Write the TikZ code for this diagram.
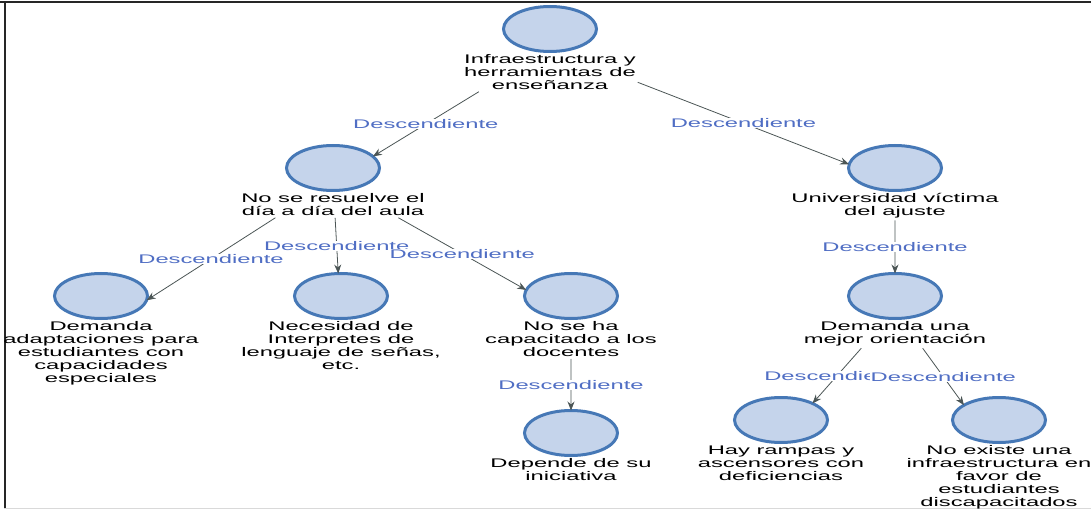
\documentclass[tikz,border=0pt]{standalone}
\usepackage{fontspec}
\newfontfamily\mapfont[FakeStretch=1.9]{Liberation Sans}
\usetikzlibrary{arrows.meta,positioning,fit,shapes.geometric,intersections}
\definecolor{bubblefill}{RGB}{197,212,235}
\definecolor{bubbleline}{RGB}{70,120,182}
\definecolor{linkgray}{RGB}{75,85,85}
\definecolor{tagblue}{RGB}{80,110,196}

\begin{document}
\begin{tikzpicture}[x=1pt,y=-1pt,
  bubble/.style={ellipse,draw=bubbleline,fill=bubblefill,line width=3pt,minimum width=93pt,minimum height=45pt,inner sep=0pt},
  caption/.style={align=center,inner sep=1.5pt,font=\mapfont\fontsize{12.5}{13}\selectfont},
  link/.style={draw=linkgray,line width=0.8pt,-{Stealth[length=9pt,width=7pt]}},
  tag/.style={midway,fill=white,inner sep=0.5pt,text=tagblue,font=\mapfont\fontsize{12.5}{13}\selectfont}]
\useasboundingbox (0,0) rectangle (1091,510);
\draw[line width=2pt,black!85] (0,2.5) -- (1091,2.5);
\draw[line width=2pt,black!85] (4.5,2) -- (4.5,508);
\draw[line width=1pt,black!15] (4,508.5) -- (1091,508.5);
% concepts: circle, text below, and a box round both
\foreach \n/\p/\t in {
  root/{550,29}/{Infraestructura y\\herramientas de\\enseñanza},
  aula/{333,168}/{No se resuelve el\\día a día del aula},
  ajuste/{895,168}/{Universidad víctima\\del ajuste},
  adapt/{101,296}/{Demanda\\adaptaciones para\\estudiantes con\\capacidades\\especiales},
  senas/{341,296}/{Necesidad de\\Interpretes de\\lenguaje de señas,\\etc.},
  docentes/{571,296}/{No se ha\\capacitado a los\\docentes},
  orient/{895,296}/{Demanda una\\mejor orientación},
  inic/{571,433}/{Depende de su\\iniciativa},
  rampas/{781,420}/{Hay rampas y\\ascensores con\\deficiencias},
  infra/{999,420}/{No existe una\\infraestructura en\\favor de\\estudiantes\\discapacitados}} {
  \node[bubble,name path global=c-\n] (c-\n) at (\p) {};
  \node[caption,below=0pt of c-\n] (t-\n) {\t};
  \node[fit=(c-\n)(t-\n),inner sep=0pt] (\n) {};
}
% connectors: aimed centre to centre, tip on the child's circle
\foreach \a/\b in {root/aula,root/ajuste,aula/adapt,aula/senas,aula/docentes,
  ajuste/orient,docentes/inic,orient/rampas,orient/infra} {
  \path[name path=ln] (\a.center) -- (\b.center);
  \path[name intersections={of=ln and c-\b,by=tip,sort by=ln}];
  \draw[link] (\a) -- (tip) node[tag] {Descendiente};
}
\end{tikzpicture}
\end{document}
